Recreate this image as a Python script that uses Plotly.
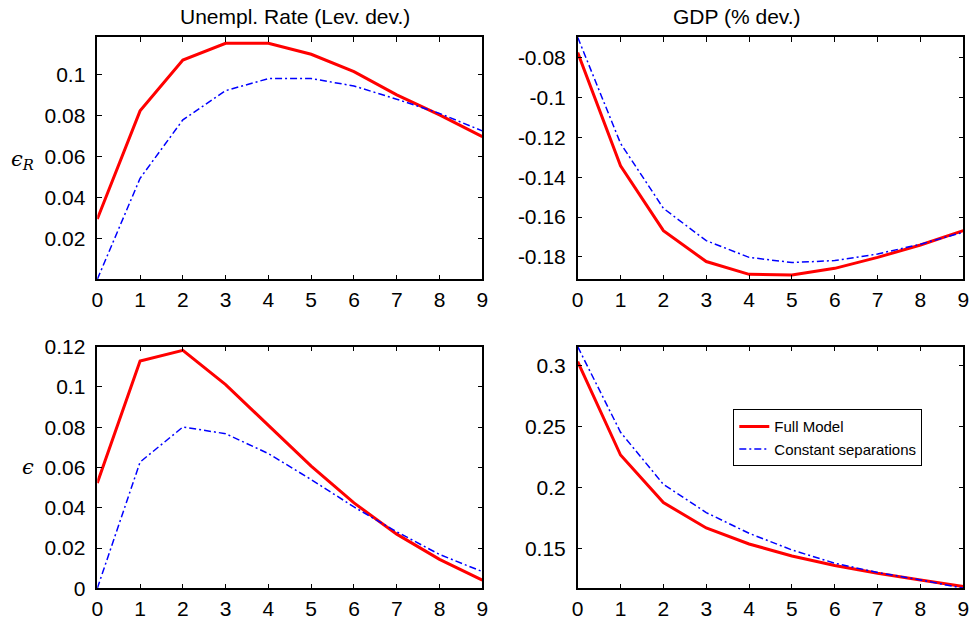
import plotly.graph_objects as go
from plotly.subplots import make_subplots

# ---------------- data ----------------
periods = list(range(10))
series_names = ["Full Model", "Constant separations"]
col_titles = ["Unempl. Rate (Lev. dev.)", "GDP (% dev.)"]

unemp_eR_full = [0.0295, 0.0824, 0.1073, 0.1155, 0.1155, 0.1101, 0.1016, 0.0902, 0.0804, 0.0698]
unemp_eR_const = [0.0, 0.0494, 0.0780, 0.0923, 0.0982, 0.0982, 0.0946, 0.0881, 0.0812, 0.0726]
gdp_eR_full = [-0.0775, -0.1343, -0.1668, -0.1823, -0.1887, -0.1890, -0.1857, -0.1802, -0.1740, -0.1668]
gdp_eR_const = [-0.0698, -0.1230, -0.1556, -0.1718, -0.1802, -0.1828, -0.1818, -0.1785, -0.1736, -0.1676]
unemp_e_full = [0.0523, 0.1129, 0.1182, 0.1012, 0.0809, 0.0607, 0.0424, 0.0269, 0.0144, 0.0041]
unemp_e_const = [0.0, 0.0627, 0.0801, 0.0768, 0.0669, 0.0540, 0.0404, 0.0281, 0.0168, 0.0083]
gdp_e_full = [0.3033, 0.2266, 0.1875, 0.1667, 0.1535, 0.1437, 0.1358, 0.1295, 0.1240, 0.1185]
gdp_e_const = [0.3156, 0.2453, 0.2025, 0.1793, 0.1623, 0.1486, 0.1377, 0.1301, 0.1240, 0.1171]

tl_ticks = [0.02, 0.04, 0.06, 0.08, 0.1]
tl_text = ["0.02", "0.04", "0.06", "0.08", "0.1"]
tr_ticks = [-0.18, -0.16, -0.14, -0.12, -0.1, -0.08]
tr_text = ["-0.18", "-0.16", "-0.14", "-0.12", "-0.1", "-0.08"]
bl_ticks = [0, 0.02, 0.04, 0.06, 0.08, 0.1, 0.12]
bl_text = ["0", "0.02", "0.04", "0.06", "0.08", "0.1", "0.12"]
br_ticks = [0.15, 0.2, 0.25, 0.3]
br_text = ["0.15", "0.2", "0.25", "0.3"]
x_ticks = list(range(10))

# ---------------- layout helpers ----------------
W, H = 972, 621
def px(x):
    return x / W
def py(y):
    return 1 - y / H

RED = "#ff0000"
BLUE = "#0000ff"
FONT = "Liberation Sans, Arial, sans-serif"
SERIF = "DejaVu Serif, Liberation Serif, serif"

fig = make_subplots(rows=2, cols=2)

panels = [
    (1, 1, unemp_eR_full, unemp_eR_const, [0, 0.1184], tl_ticks, tl_text),
    (1, 2, gdp_eR_full, gdp_eR_const, [-0.1912, -0.0698], tr_ticks, tr_text),
    (2, 1, unemp_e_full, unemp_e_const, [0, 0.12], bl_ticks, bl_text),
    (2, 2, gdp_e_full, gdp_e_const, [0.1171, 0.3156], br_ticks, br_text),
]

for (r, c, full, const, yr, yt, ytt) in panels:
    show = (r == 2 and c == 2)
    fig.add_trace(go.Scatter(x=periods, y=full, mode="lines", name=series_names[0],
                             line=dict(color=RED, width=3), showlegend=show), row=r, col=c)
    fig.add_trace(go.Scatter(x=periods, y=const, mode="lines", name=series_names[1],
                             line=dict(color=BLUE, width=1.5, dash="7px,3px,2px,3px"),
                             showlegend=show), row=r, col=c)
    fig.update_yaxes(range=yr, tickvals=yt, ticktext=ytt, row=r, col=c)

axis_style = dict(showgrid=False, zeroline=False, showline=True, linecolor="black",
                  linewidth=1.5, mirror="ticks", ticks="inside", ticklen=5,
                  tickwidth=1, tickcolor="black", automargin=False,
                  tickfont=dict(family=FONT, size=21, color="black"))
fig.update_xaxes(range=[0, 9], tickvals=x_ticks, ticklabelstandoff=1, **axis_style)
fig.update_yaxes(ticklabelstandoff=6, **axis_style)

xl = [px(97.3), px(482.3)]
xr = [px(577.7), px(963.3)]
yt_dom = [py(279.3), py(37.3)]
yb_dom = [py(588.3), py(346.7)]
fig.update_layout(
    xaxis=dict(domain=xl), xaxis2=dict(domain=xr), xaxis3=dict(domain=xl), xaxis4=dict(domain=xr),
    yaxis=dict(domain=yt_dom), yaxis2=dict(domain=yt_dom), yaxis3=dict(domain=yb_dom), yaxis4=dict(domain=yb_dom),
)

annotations = [
    dict(text=col_titles[0], x=px(295), y=py(16), xref="paper", yref="paper",
         xanchor="center", yanchor="middle",
         showarrow=False, font=dict(family=FONT, size=21, color="black")),
    dict(text=col_titles[1], x=px(737), y=py(16), xref="paper", yref="paper",
         xanchor="center", yanchor="middle",
         showarrow=False, font=dict(family=FONT, size=21, color="black")),
    dict(text="<i>\u03f5<sub>R</sub></i>", x=px(22), y=py(160), xref="paper", yref="paper",
         xanchor="center", yanchor="middle",
         showarrow=False, font=dict(family=SERIF, size=21, color="black")),
    dict(text="<i>\u03f5</i>", x=px(28), y=py(467), xref="paper", yref="paper",
         xanchor="center", yanchor="middle",
         showarrow=False, font=dict(family=SERIF, size=21, color="black")),
]

fig.update_layout(
    width=W, height=H,
    template="none",
    margin=dict(l=0, r=0, t=0, b=0, autoexpand=False),
    plot_bgcolor="white", paper_bgcolor="white",
    annotations=annotations,
    legend=dict(x=px(733.3), y=py(409.3), xanchor="left", yanchor="top",
                bordercolor="black", borderwidth=1, bgcolor="white",
                font=dict(family=FONT, size=15, color="black"),
                tracegroupgap=0, itemwidth=30),
)

fig.write_html("out.html")
